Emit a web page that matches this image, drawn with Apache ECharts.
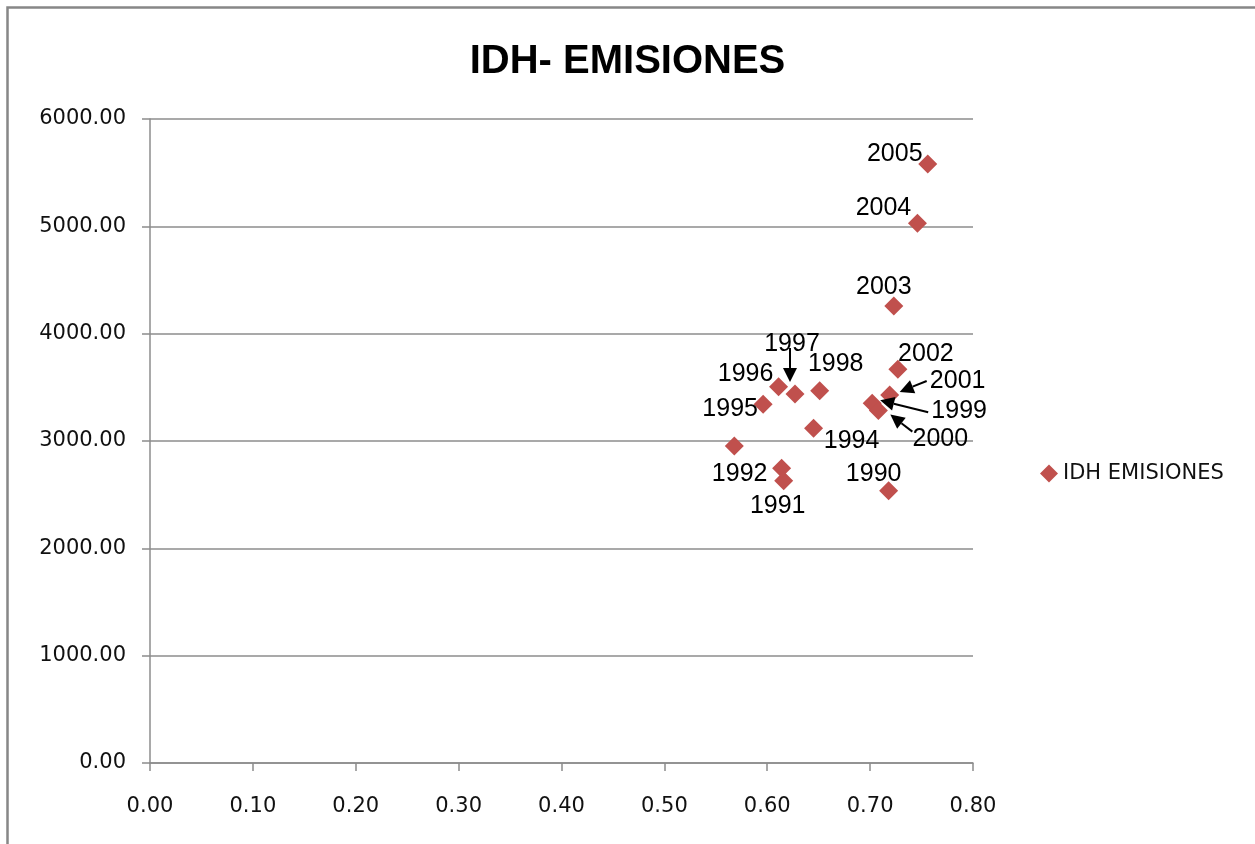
<!DOCTYPE html>
<html>
<head>
<meta charset="utf-8">
<script src="https://cdn.jsdelivr.net/npm/echarts@6/dist/echarts.min.js"></script>
<style>html,body{margin:0;padding:0;background:#fff;}#c{width:1255px;height:844px;}</style>
</head>
<body>
<div id="c"></div>
<script>
// ---- data ----
const years = [1990,1991,1992,1993,1994,1995,1996,1997,1998,1999,2000,2001,2002,2003,2004,2005];
const idh = [0.718,0.616,0.614,0.568,0.645,0.596,0.611,0.627,0.651,0.702,0.708,0.719,0.727,0.723,0.746,0.756];
const emisiones = [2537,2630,2746,2953,3118,3342,3506,3438,3469,3351,3283,3429,3668,4258,5028,5581];
const xTicks = [0,0.1,0.2,0.3,0.4,0.5,0.6,0.7,0.8];
const yTicks = [0,1000,2000,3000,4000,5000,6000];
const seriesName = 'IDH EMISIONES';
const chartTitle = 'IDH- EMISIONES';
const hiddenLabels = [1993];

// ---- label styling (offsets from marker centre, px) ----
const labelOffsets = {
  1990:[-15,-17],1991:[-6,25],1992:[-42,6],1994:[38,13],1995:[-33,5],1996:[-33,-13],
  1997:[-3,-50],1998:[16,-27],1999:[87,8],2000:[62,28],2001:[68,-14],2002:[28,-15],
  2003:[-10,-19],2004:[-34,-15],2005:[-33,-10]
};
// arrows: [year, startDx, startDy, endDx, endDy]
const arrowStyle = [
  [1997,-5,-46,-5,-12],
  [2001,37,-14,10,-3],
  [1999,56,9,8,-3],
  [2000,34,21,12,4]
];

const points = years.map((y,i)=>{
  const o = labelOffsets[y];
  return {
    value:[idh[i],emisiones[i]],
    name:String(y),
    label: hiddenLabels.includes(y) ? {show:false} : {show:true, offset:o}
  };
});

const chart = echarts.init(document.getElementById('c'));
const axisFont = {fontFamily:'DejaVu Sans', fontSize:21, color:'#111'};
chart.setOption({
  animation:false,
  backgroundColor:'#fff',
  title:{text:chartTitle,left:'center',top:37,
    textStyle:{fontFamily:'Liberation Sans',fontWeight:'bold',fontSize:40,color:'#000'}},
  legend:{show:true,left:1035,top:458,itemWidth:18,itemHeight:18,itemGap:6,
    textStyle:{fontFamily:'DejaVu Sans',fontSize:21,color:'#111'},
    data:[{name:seriesName,icon:'diamond'}]},
  grid:{left:150,right:282,top:119,bottom:81,containLabel:false},
  xAxis:{type:'value',min:xTicks[0],max:xTicks[xTicks.length-1],interval:0.1,
    axisLine:{show:true,onZero:false,lineStyle:{color:'#8c8c8c',width:1.5}},
    axisTick:{show:true,length:8,lineStyle:{color:'#8c8c8c',width:1.5}},
    splitLine:{show:false},
    axisLabel:Object.assign({margin:33,formatter:v=>v.toFixed(2)},axisFont)},
  yAxis:{type:'value',min:yTicks[0],max:yTicks[yTicks.length-1],interval:1000,
    axisLine:{show:true,lineStyle:{color:'#8c8c8c',width:1.5}},
    axisTick:{show:true,length:8,lineStyle:{color:'#8c8c8c',width:1.5}},
    splitLine:{show:true,lineStyle:{color:'#8c8c8c',width:1.5}},
    axisLabel:Object.assign({margin:24,formatter:v=>v.toFixed(2)},axisFont)},
  series:[{
    name:seriesName,type:'scatter',symbol:'diamond',symbolSize:19,
    itemStyle:{color:'#C0504D',opacity:1},
    label:{show:true,position:'inside',formatter:p=>p.name,
      fontFamily:'Liberation Sans',fontSize:25,color:'#000',align:'center',verticalAlign:'middle'},
    emphasis:{disabled:true},
    data:points
  }]
});

// arrows + outer frame
const graphics = [{type:'rect',left:5,top:5,shape:{x:0,y:0,width:1300,height:900},
  style:{fill:'none',stroke:'#878787',lineWidth:2.5},silent:true,z:100}];
arrowStyle.forEach(a=>{
  const i = years.indexOf(a[0]);
  const p = chart.convertToPixel({gridIndex:0},[idh[i],emisiones[i]]);
  const sx=p[0]+a[1], sy=p[1]+a[2], ex=p[0]+a[3], ey=p[1]+a[4];
  const ang = Math.atan2(ey-sy,ex-sx);
  const L=14, W=7;
  const bx = ex - L*Math.cos(ang), by = ey - L*Math.sin(ang);
  graphics.push({type:'line',shape:{x1:sx,y1:sy,x2:bx,y2:by},style:{stroke:'#000',lineWidth:2},z:100});
  graphics.push({type:'polygon',shape:{points:[[ex,ey],
    [bx + W*Math.sin(ang), by - W*Math.cos(ang)],
    [bx - W*Math.sin(ang), by + W*Math.cos(ang)]]},style:{fill:'#000'},z:100});
});
chart.setOption({graphic:graphics});
</script>
</body>
</html>
